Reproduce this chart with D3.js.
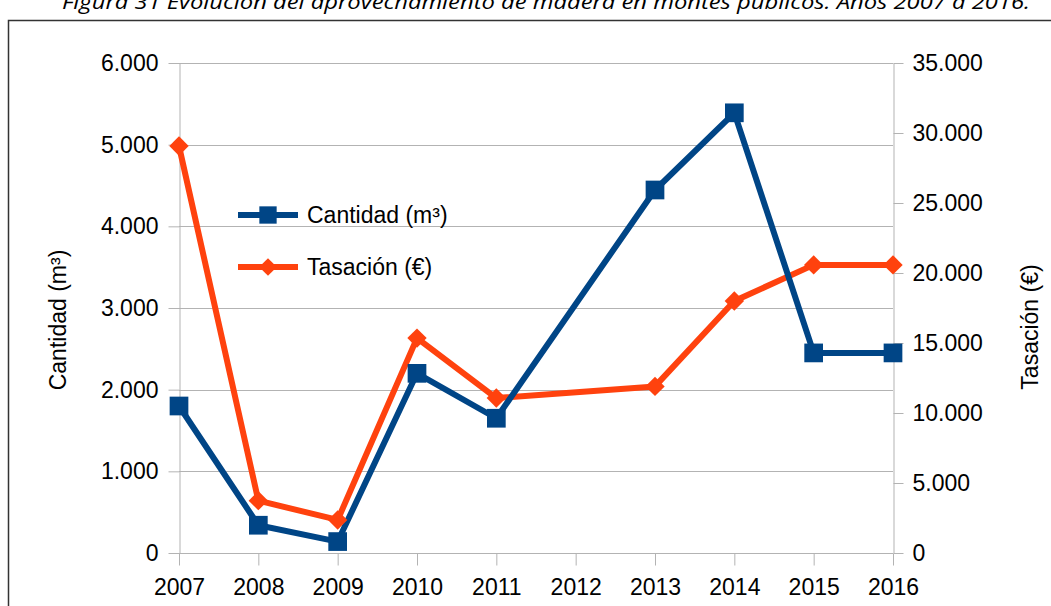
<!DOCTYPE html>
<html lang="es">
<head>
<meta charset="utf-8">
<title>Aprovechamiento de madera</title>
<script src="https://cdn.jsdelivr.net/npm/d3@7"></script>
<style>
  body { margin: 0; background: #fff; }
  svg { display: block; font-family: "Liberation Sans", Arial, sans-serif; }
  .grid line { stroke: #b3b3b3; stroke-width: 1; }
  .axis path, .axis line { stroke: #b3b3b3; stroke-width: 1; }
  .axis text { fill: #000; font-size: 23px; }
</style>
</head>
<body>
<div id="viz"></div>
<script>
// DATA
var years = ["2007", "2008", "2009", "2010", "2011", "2012", "2013", "2014", "2015", "2016"];
var cantidad = [1800, 340, 140, 2200, 1650, null, 4445, 5390, 2450, 2450];
var tasacion = [29070, 3740, 2360, 15350, 11070, null, 11900, 18000, 20580, 20580];
var leftTicks = [0, 1000, 2000, 3000, 4000, 5000, 6000];
var rightTicks = [0, 5000, 10000, 15000, 20000, 25000, 30000, 35000];
var seriesNames = ["Cantidad (m³)", "Tasación (€)"];

var w = 1051, h = 606;
var blue = "#004586", orange = "#ff420e";

var fmt = function (v) { return d3.format(",")(v).replace(/,/g, "."); };

var svg = d3.select("#viz").append("svg")
  .attr("width", w)
  .attr("height", h);

// title (cut at the top, like the source)
svg.append("text")
  .attr("x", 546)
  .attr("y", 9)
  .attr("text-anchor", "middle")
  .attr("textLength", 968)
  .attr("lengthAdjust", "spacingAndGlyphs")
  .style("font-family", "'Open Sans', sans-serif")
  .style("font-style", "italic")
  .style("font-size", "20px")
  .text("Figura 31 Evolución del aprovechamiento de madera en montes públicos. Años 2007 a 2016.");

// frame
svg.append("rect")
  .attr("x", 8.5).attr("y", 20.5)
  .attr("width", 1100).attr("height", 700)
  .attr("fill", "none")
  .attr("stroke", "#333")
  .attr("stroke-width", 1.5);

// SCALES
var x = d3.scalePoint().domain(years).range([179, 893]);
var yL = d3.scaleLinear().domain([0, 6000]).range([553, 63]);
var yR = d3.scaleLinear().domain([0, 35000]).range([553, 63]);

// gridlines
svg.append("g").attr("class", "grid")
  .selectAll("line")
  .data(leftTicks)
  .enter().append("line")
  .attr("x1", 179).attr("x2", 893)
  .attr("y1", function (d) { return Math.round(yL(d)) + 0.5; })
  .attr("y2", function (d) { return Math.round(yL(d)) + 0.5; });

// AXES
var gx = svg.append("g").attr("class", "axis")
  .attr("transform", "translate(0,553.5)")
  .call(d3.axisBottom(x).tickSizeInner(12).tickSizeOuter(0).tickPadding(8));
gx.select(".domain").remove();
gx.selectAll("text").attr("dy", "0.95em");

var gl = svg.append("g").attr("class", "axis")
  .attr("transform", "translate(179.5,0)")
  .call(d3.axisLeft(yL).tickValues(leftTicks).tickFormat(fmt).tickSizeInner(11).tickSizeOuter(0).tickPadding(10));

var gr = svg.append("g").attr("class", "axis")
  .attr("transform", "translate(893.5,0)")
  .call(d3.axisRight(yR).tickValues(rightTicks).tickFormat(fmt).tickSizeInner(10).tickSizeOuter(0).tickPadding(9));

// axis titles
svg.append("text")
  .attr("transform", "translate(66,320) rotate(-90)")
  .attr("text-anchor", "middle")
  .style("font-size", "23px")
  .text(seriesNames[0]);

svg.append("text")
  .attr("transform", "translate(1038,327) rotate(-90)")
  .attr("text-anchor", "middle")
  .style("font-size", "23px")
  .text(seriesNames[1]);

// LINES
function pts(vals) {
  return years.map(function (y, i) { return { year: y, v: vals[i] }; })
    .filter(function (d) { return d.v !== null; });
}
var cantPts = pts(cantidad), tasPts = pts(tasacion);

var lineL = d3.line().x(function (d) { return x(d.year); }).y(function (d) { return yL(d.v); });
var lineR = d3.line().x(function (d) { return x(d.year); }).y(function (d) { return yR(d.v); });

svg.append("path").datum(tasPts)
  .attr("d", lineR).attr("fill", "none")
  .attr("stroke", orange).attr("stroke-width", 6).attr("stroke-linejoin", "round");

svg.append("path").datum(cantPts)
  .attr("d", lineL).attr("fill", "none")
  .attr("stroke", blue).attr("stroke-width", 6).attr("stroke-linejoin", "round");

var diamond = d3.symbol().type(d3.symbolDiamond2).size(240);
var square = d3.symbol().type(d3.symbolSquare).size(350);

svg.selectAll(".mkT").data(tasPts).enter().append("path")
  .attr("class", "mkT")
  .attr("d", diamond)
  .attr("transform", function (d) { return "translate(" + x(d.year) + "," + yR(d.v) + ")"; })
  .attr("fill", orange);

svg.selectAll(".mkC").data(cantPts).enter().append("path")
  .attr("class", "mkC")
  .attr("d", square)
  .attr("transform", function (d) { return "translate(" + x(d.year) + "," + yL(d.v) + ")"; })
  .attr("fill", blue);

// LEGEND
var legend = svg.append("g").attr("transform", "translate(238,215)");
var items = [
  { name: seriesNames[0], color: blue, sym: d3.symbol().type(d3.symbolSquare).size(300) },
  { name: seriesNames[1], color: orange, sym: d3.symbol().type(d3.symbolDiamond2).size(200) }
];
var li = legend.selectAll("g").data(items).enter().append("g")
  .attr("transform", function (d, i) { return "translate(0," + i * 52 + ")"; });
li.append("line").attr("x1", 0).attr("x2", 60)
  .attr("stroke", function (d) { return d.color; }).attr("stroke-width", 6);
li.append("path").attr("d", function (d) { return d.sym(); })
  .attr("transform", "translate(30,0)")
  .attr("fill", function (d) { return d.color; });
li.append("text").attr("x", 69).attr("dy", "0.35em")
  .style("font-size", "23px")
  .text(function (d) { return d.name; });
</script>
</body>
</html>
